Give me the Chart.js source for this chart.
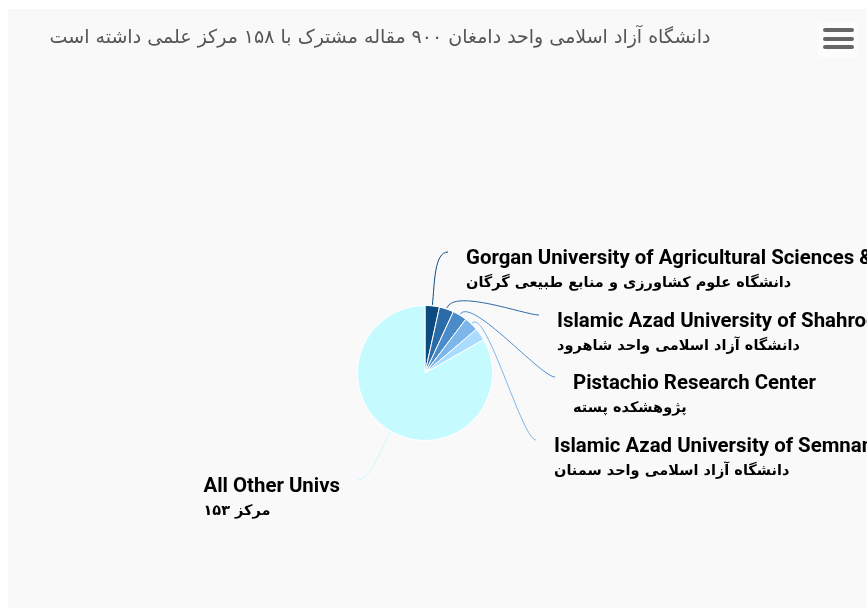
<!DOCTYPE html>
<html>
<head>
<meta charset="utf-8">
<script src="https://cdn.jsdelivr.net/npm/chart.js@4/dist/chart.umd.min.js"></script>
<style>
  html,body{margin:0;padding:0;background:#ffffff;width:867px;height:608px;overflow:hidden;}
  #wrap{position:absolute;left:8px;top:9px;width:859px;height:599px;background:#f9f9f9;}
  #c{position:absolute;left:0;top:0;}
  #menu{position:absolute;left:810px;top:13px;width:40px;height:36px;background:#fcfcfc;border-radius:3px;}
  #menu span{position:absolute;left:5px;width:31px;height:4px;background:#666;border-radius:2px;}
</style>
</head>
<body>
<div id="wrap">
  <canvas id="c" width="859" height="599"></canvas>
  <div id="menu"><span style="top:6px"></span><span style="top:14.5px"></span><span style="top:23px"></span></div>
</div>
<script>
// ---- data ----
const titleText = 'دانشگاه آزاد اسلامی واحد دامغان ۹۰۰ مقاله مشترک با ۱۵۸ مرکز علمی داشته است';
const namesEn = [
  'Gorgan University of Agricultural Sciences & Natural Resources',
  'Islamic Azad University of Shahrood',
  'Pistachio Research Center',
  'Islamic Azad University of Semnan',
  '',
  'All Other Univs'
];
const namesFa = [
  'دانشگاه علوم کشاورزی و منابع طبیعی گرگان',
  'دانشگاه آزاد اسلامی واحد شاهرود',
  'پژوهشکده پسته',
  'دانشگاه آزاد اسلامی واحد سمنان',
  '',
  'مرکز ۱۵۳'
];
const articleCounts = [31, 31, 31, 31, 27, 749];
const sliceColors = ['#0c4a80', '#2b6ba7', '#4b8bca', '#7cb6ea', '#a9dcff', '#c5fbff'];

// ---- label layout (offsets of connector ends from pie centre; null = hidden label) ----
const labelLayout = [
  {dx: 23, dy: -121, side: 'right'},
  {dx: 114, dy: -58, side: 'right'},
  {dx: 130, dy: 4, side: 'right'},
  {dx: 111, dy: 67, side: 'right'},
  null,
  {dx: -68, dy: 107, side: 'left'}
];

const pieLabels = {
  id: 'pieLabels',
  afterDatasetsDraw(chart) {
    const ctx = chart.ctx;
    const meta = chart.getDatasetMeta(0);
    ctx.save();
    // title
    ctx.font = '19px "DejaVu Sans", sans-serif';
    ctx.fillStyle = '#555555';
    ctx.direction = 'rtl';
    ctx.textAlign = 'center';
    ctx.textBaseline = 'middle';
    ctx.fillText(titleText, 372, 29);
    ctx.direction = 'ltr';

    meta.data.forEach((arc, i) => {
      const lay = labelLayout[i];
      if (!lay) return;
      const p = arc.getProps(['x', 'y', 'startAngle', 'endAngle', 'outerRadius'], true);
      const mid = (p.startAngle + p.endAngle) / 2;
      const r0 = p.outerRadius;
      const sx = p.x + Math.cos(mid) * (r0 + 1);
      const sy = p.y + Math.sin(mid) * (r0 + 1);
      const ex = p.x + lay.dx, ey = p.y + lay.dy;
      const c1x = p.x + Math.cos(mid) * (r0 + 22);
      const c1y = p.y + Math.sin(mid) * (r0 + 22);
      const c2x = ex + (lay.side === 'right' ? -14 : 14);
      const c2y = ey;
      ctx.strokeStyle = sliceColors[i];
      ctx.lineWidth = 1;
      ctx.beginPath();
      ctx.moveTo(sx, sy);
      ctx.bezierCurveTo(c1x, c1y, c2x, c2y, ex, ey);
      ctx.stroke();

      const fontEn = 'bold 20.4px Roboto, "Liberation Sans", sans-serif';
      const fontFa = 'bold 14.5px "DejaVu Sans", sans-serif';
      ctx.font = fontEn;
      const wEn = ctx.measureText(namesEn[i]).width;
      ctx.font = fontFa;
      const wFa = ctx.measureText(namesFa[i]).width;
      const w = Math.max(wEn, wFa);
      const lx = lay.side === 'right' ? ex + 18 : ex - 17 - w;
      ctx.fillStyle = '#000000';
      ctx.textBaseline = 'middle';
      ctx.textAlign = 'left';
      ctx.font = fontEn;
      ctx.fillText(namesEn[i], lx, ey + 7);
      ctx.font = fontFa;
      ctx.direction = 'rtl';
      ctx.textAlign = 'right';
      ctx.fillText(namesFa[i], lx + wFa, ey + 31);
      ctx.direction = 'ltr';
    });
    ctx.restore();
  }
};

new Chart(document.getElementById('c'), {
  type: 'pie',
  data: {
    labels: namesEn,
    datasets: [{
      data: articleCounts,
      backgroundColor: sliceColors,
      borderColor: '#ffffff',
      borderWidth: 1
    }]
  },
  options: {
    responsive: false,
    animation: false,
    layout: {padding: {left: 349, right: 374, top: 296, bottom: 167}},
    plugins: {
      legend: {display: false},
      title: {display: false},
      tooltip: {enabled: false}
    }
  },
  plugins: [pieLabels]
});
</script>
</body>
</html>
